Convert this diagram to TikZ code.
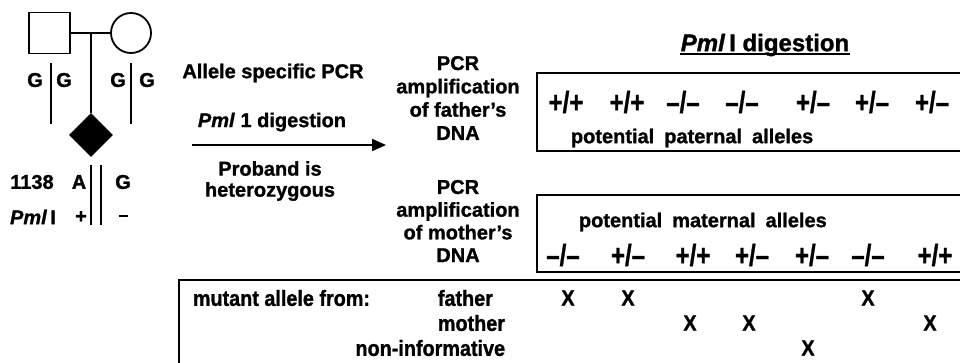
\documentclass[tikz,border=0pt]{standalone}
\usepackage{fontspec}
\usepackage{graphicx}
\setmainfont{Liberation Sans}[BoldFeatures={FakeBold=1.2},BoldItalicFeatures={FakeBold=1.2}]
\usetikzlibrary{shapes.geometric,arrows.meta}
\newcommand{\narw}[1]{\scalebox{0.8}[1]{#1}}
\newcommand{\narb}[1]{\scalebox{0.9}[1]{#1}}
\begin{document}
\begin{tikzpicture}[x=1pt,y=-1pt,line width=1.8pt,
  txt/.style={font=\fontsize{20}{23}\selectfont\bfseries,inner sep=0pt},
  ent/.style={font=\fontsize{30}{32}\selectfont\bfseries,inner sep=0pt},
  hdr/.style={font=\fontsize{24}{28}\selectfont\bfseries,inner sep=0pt},
  btm/.style={font=\fontsize{22}{24}\selectfont\bfseries,inner sep=0pt},
  mk/.style={font=\fontsize{22}{24}\selectfont\bfseries,inner sep=0pt},
  chrom/.style={line width=1.8pt}]
\useasboundingbox (0,0) rectangle (960,363);
\clip (0,0) rectangle (960,363);
\fill[white] (0,0) rectangle (960,363);
% pedigree
\node[draw,minimum size=41pt,inner sep=0pt] (fa) at (49.5,33) {};
\node[draw,circle,minimum size=40pt,inner sep=0pt] (mo) at (131,33) {};
\node[draw,fill=black,diamond,minimum size=42pt,inner sep=0pt] (pb) at (91,135) {};
\coordinate (mid) at (91,33);
\draw (fa.east) -- (mo.west);
\draw (mid) -- (pb.north);
% parental alleles
\node[txt] (fg1) at (35,80) {G};
\node[txt] (fg2) at (64,80) {G};
\draw[chrom] (51,63) -- (51,124);
\node[txt] (mg1) at (118,80) {G};
\node[txt] (mg2) at (147,80) {G};
\draw[chrom] (131,63) -- (131,124);
% proband alleles
\draw[chrom] (91,165) -- (91,225);
\draw[chrom] (101,165) -- (101,225);
\node[txt] (pos) at (32,182) {1138};
\node[txt] (pa) at (79,182) {A};
\node[txt] (pg) at (123,182) {G};
\node[txt] (pml) at (33,217) {\textit{Pml}\,I};
\node[txt] (pp) at (81,217) {+};
\node[inner sep=0pt] (pm) at (123,216) {\rule{9pt}{2.8pt}};
% arrow and texts
\node[txt] (t1) at (273,73) {Allele specific PCR};
\node[txt] (t2) at (272,122) {\textit{Pml} 1 digestion};
\node[txt,align=center,font=\fontsize{20}{21}\selectfont\bfseries] (t3) at (270,181) {Proband is\\heterozygous};
\coordinate (as) at (192,145);
\coordinate (ae) at (386,145);
\draw[-{Triangle[length=14pt,width=12pt]}] (as) -- (ae);
% PCR blocks
\node[txt,align=center,font=\fontsize{20}{23.3}\selectfont\bfseries] (pcrf) at (458,98) {PCR\\amplification\\of father’s\\DNA};
\node[txt,align=center,font=\fontsize{20}{22.7}\selectfont\bfseries] (pcrm) at (458,221) {PCR\\amplification\\of mother’s\\DNA};
% header
\node[hdr] (hd) at (765,45) {\textit{Pml}\,I digestion};
\draw[line width=1.6pt] ([yshift=-3pt]hd.base west) -- ([yshift=-3pt]hd.base east);
% box 1
\draw (965,73) -- (537,73) -- (537,151) -- (965,151);
\node[ent] (f1) at (566,102) {\narw{+/+}};
\node[ent] (f2) at (627,102) {\narw{+/+}};
\node[ent] (f3) at (683,102) {\narw{–/–}};
\node[ent] (f4) at (742,102) {\narw{–/–}};
\node[ent] (f5) at (813,102) {\narw{+/–}};
\node[ent] (f6) at (872,102) {\narw{+/–}};
\node[ent] (f7) at (932,102) {\narw{+/–}};
\node[txt,anchor=west] (fl) at (570,138) {potential\hspace{0.5em}paternal\hspace{0.5em}alleles};
% box 2
\draw (965,195) -- (537,195) -- (537,272) -- (965,272);
\node[txt,anchor=west] (ml) at (578,222) {potential\hspace{0.5em}maternal\hspace{0.5em}alleles};
\node[ent] (m1) at (563,255) {\narw{–/–}};
\node[ent] (m2) at (628,255) {\narw{+/–}};
\node[ent] (m3) at (693,255) {\narw{+/+}};
\node[ent] (m4) at (752,255) {\narw{+/–}};
\node[ent] (m5) at (812,255) {\narw{+/–}};
\node[ent] (m6) at (868,255) {\narw{–/–}};
\node[ent] (m7) at (935,255) {\narw{+/+}};
% box 3
\draw (965,280) -- (179,280) -- (179,370);
\node[btm,anchor=west] (mut) at (192,298) {\narb{mutant allele from:}};
\node[btm,anchor=west] (rf) at (437,298) {\narb{father}};
\node[btm,anchor=west] (rm) at (437,323) {\narb{mother}};
\node[btm,anchor=east] (rn) at (506,348) {\narb{non-informative}};
\node[mk] (x1) at (568,298) {\narb{X}};
\node[mk] (x2) at (628,298) {\narb{X}};
\node[mk] (x6) at (868,298) {\narb{X}};
\node[mk] (x3) at (690,323) {\narb{X}};
\node[mk] (x4) at (749,323) {\narb{X}};
\node[mk] (x7) at (930,323) {\narb{X}};
\node[mk] (x5) at (808,348) {\narb{X}};
\end{tikzpicture}
\end{document}
